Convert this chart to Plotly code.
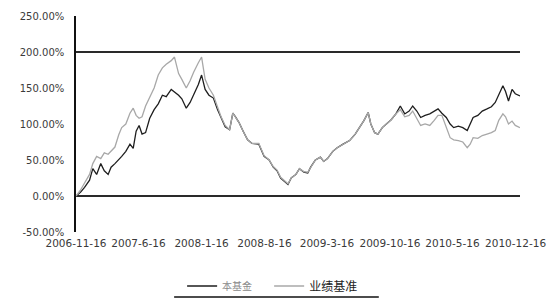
import plotly.graph_objects as go

dates = [
    "2006-11-16", "2006-12-01", "2006-12-15", "2007-01-01", "2007-01-12", "2007-01-25",
    "2007-02-08", "2007-02-20", "2007-03-05", "2007-03-15", "2007-03-28", "2007-04-10",
    "2007-04-20", "2007-05-04", "2007-05-18", "2007-05-29", "2007-06-08", "2007-06-18",
    "2007-06-28", "2007-07-10", "2007-07-24", "2007-08-08", "2007-08-22", "2007-09-05",
    "2007-09-18", "2007-10-05", "2007-10-16", "2007-10-30", "2007-11-10", "2007-11-25",
    "2007-12-08", "2007-12-20", "2008-01-05", "2008-01-16", "2008-01-28", "2008-02-10",
    "2008-02-25", "2008-03-10", "2008-03-22", "2008-04-05", "2008-04-20", "2008-05-01",
    "2008-05-10", "2008-05-22", "2008-06-05", "2008-06-20", "2008-07-05", "2008-07-28",
    "2008-08-15", "2008-09-01", "2008-09-15", "2008-09-28", "2008-10-10", "2008-10-25",
    "2008-11-04", "2008-11-15", "2008-12-01", "2008-12-13", "2008-12-28", "2009-01-10",
    "2009-01-20", "2009-02-05", "2009-02-22", "2009-03-05", "2009-03-18", "2009-04-05",
    "2009-04-20", "2009-05-10", "2009-06-01", "2009-06-20", "2009-07-05", "2009-07-20",
    "2009-08-03", "2009-08-12", "2009-08-25", "2009-09-05", "2009-09-20", "2009-10-05",
    "2009-10-20", "2009-11-05", "2009-11-20", "2009-12-05", "2009-12-20", "2010-01-01",
    "2010-01-15", "2010-01-28", "2010-02-12", "2010-02-28", "2010-03-15", "2010-03-28",
    "2010-04-10", "2010-04-25", "2010-05-08", "2010-05-20", "2010-06-05", "2010-06-20",
    "2010-07-05", "2010-07-15", "2010-07-25", "2010-08-10", "2010-08-25", "2010-09-10",
    "2010-09-25", "2010-10-08", "2010-10-20", "2010-11-03", "2010-11-12", "2010-11-22",
    "2010-12-04", "2010-12-15", "2010-12-31",
]

fund = [
    0, 5, 12, 22, 38, 30,
    45, 35, 30, 40, 45, 50,
    55, 62, 72, 66, 90, 98,
    86, 88, 108, 120, 128, 140,
    138, 148, 145, 140, 135, 122,
    130, 140, 155, 168, 148, 140,
    136, 120, 108, 96, 92, 115,
    110, 102, 90, 78, 73, 72,
    55, 50, 40, 35, 25, 20,
    16, 25, 30, 38, 33, 32,
    40, 50, 54, 48, 52, 62,
    67, 72, 77, 86, 95, 105,
    116, 100, 88, 86, 95, 100,
    106, 114, 125, 114, 118, 125,
    118, 109, 112, 114, 118, 121,
    115, 109, 100, 95, 97, 95,
    91, 100, 109, 112, 118, 121,
    124, 130, 140, 153, 145, 132,
    148, 142, 139,
]

bench = [
    0, 8, 18, 30, 45, 55,
    52, 60, 58, 62, 68, 85,
    95, 100, 115, 122, 112, 108,
    110, 125, 138, 150, 168, 178,
    183, 188, 193, 170, 162, 150,
    160, 172, 185, 193, 162, 150,
    140, 125, 110, 98, 92, 115,
    110, 102, 90, 78, 73, 73,
    56, 50, 41, 36, 26, 21,
    17, 25, 30, 38, 34, 33,
    40, 50, 54, 48, 52, 62,
    67, 72, 77, 86, 95, 105,
    116, 100, 88, 86, 95, 100,
    106, 114, 120, 110, 112, 118,
    108, 98, 100, 98, 105, 112,
    112, 95, 81, 78, 77, 75,
    67, 72, 81, 80, 84, 86,
    88, 91, 105, 114, 110, 100,
    104, 98, 95,
]

tick_dates = ["2006-11-16", "2007-06-16", "2008-01-16", "2008-08-16",
              "2009-03-16", "2009-10-16", "2010-05-16", "2010-12-16"]
tick_labels = ["2006-11-16", "2007-6-16", "2008-1-16", "2008-8-16",
               "2009-3-16", "2009-10-16", "2010-5-16", "2010-12-16"]

y_ticks = [-50, 0, 50, 100, 150, 200, 250]
y_labels = ["-50.00%", "0.00%", "50.00%", "100.00%", "150.00%", "200.00%", "250.00%"]
grid_ticks = [0, 200]

series_names = ["本基金", "业绩基准"]

fig = go.Figure()
fig.add_trace(go.Scatter(x=dates, y=fund, mode="lines", name=series_names[0],
                         legend="legend",
                         line=dict(color="#1e1e1e", width=1.3)))
fig.add_trace(go.Scatter(x=dates, y=bench, mode="lines", name=series_names[1],
                         legend="legend2",
                         line=dict(color="#a8a8a8", width=1.3)))
# invisible trace to carry the second y axis (for the two horizontal rules)
fig.add_trace(go.Scatter(x=[dates[0]], y=[0], yaxis="y2", mode="lines",
                         showlegend=False, hoverinfo="skip",
                         line=dict(color="rgba(0,0,0,0)")))

# page is offset by the browser's default 8px body margin
fig.update_layout(
    width=560, height=298,
    margin=dict(l=68, r=48, t=8, b=74, autoexpand=False),
    paper_bgcolor="white", plot_bgcolor="white",
    font=dict(family="DejaVu Sans, Noto Sans CJK SC", color="#3a3a3a"),
    showlegend=True,
    legend=dict(orientation="h", x=0.239, xanchor="left", y=-0.25, yanchor="middle",
                font=dict(size=10, color="#8a8a8a", family="Noto Sans CJK SC, DejaVu Sans"),
                bgcolor="rgba(0,0,0,0)"),
    legend2=dict(orientation="h", x=0.435, xanchor="left", y=-0.25, yanchor="middle",
                 font=dict(size=12, color="#222", family="Noto Sans CJK SC, DejaVu Sans"),
                 bgcolor="rgba(0,0,0,0)"),
    xaxis=dict(type="date", range=["2006-11-16", "2010-12-31"],
               tickvals=tick_dates, ticktext=tick_labels,
               tickfont=dict(size=10.5, color="#3a3a3a"),
               showgrid=False, zeroline=False, showline=False,
               ticks="", tickangle=0, automargin=False, ticklabelstandoff=3),
    yaxis=dict(range=[-50, 250], tickvals=y_ticks, ticktext=y_labels,
               tickfont=dict(size=10, color="#3a3a3a"),
               showgrid=False, zeroline=False,
               showline=True, linecolor="#111", linewidth=1.5,
               ticks="", ticklabelstandoff=8, automargin=False),
    yaxis2=dict(range=[-50, 250], overlaying="y", tickvals=grid_ticks,
                showticklabels=False, showgrid=True, gridcolor="#2a2a2a",
                gridwidth=2, zeroline=False, showline=False, automargin=False),
    shapes=[dict(type="line", xref="paper", yref="paper",
                 x0=0.221, x1=0.682, y0=-0.301, y1=-0.301,
                 line=dict(color="#111", width=1.5))],
)

fig.write_html("out.html")
